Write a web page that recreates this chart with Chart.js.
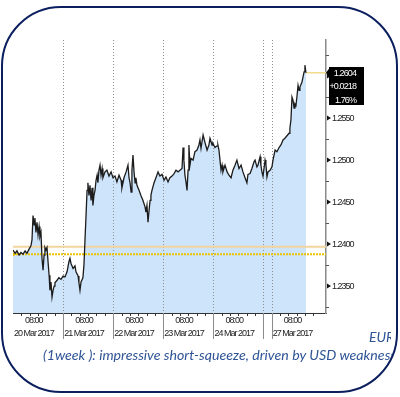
<!DOCTYPE html>
<html><head><meta charset="utf-8">
<script src="https://cdn.jsdelivr.net/npm/chart.js@4"></script>
<style>
html,body{margin:0;padding:0;background:#fff;width:400px;height:397px;overflow:hidden;}
#c{position:absolute;left:0;top:0;}
#frame{position:absolute;left:1px;top:6px;width:397px;height:387px;box-sizing:border-box;border:2.5px solid #0b1f5e;border-radius:60px;overflow:hidden;pointer-events:none;}
.cap{position:absolute;white-space:nowrap;font-family:'Lato','Liberation Sans',sans-serif;font-style:italic;color:#2f5496;}
</style></head>
<body>
<canvas id="c" width="400" height="397"></canvas>
<div id="frame">
  <div class="cap" id="pair" style="left:366px;top:320px;font-size:14px;width:22px;overflow:hidden;">EUR/USD</div>
  <div class="cap" id="caption" style="left:40px;top:338px;font-size:14.2px;">(1week ): impressive short-squeeze, driven by USD weakness</div>
</div>
<script>
// ---- data (hours of trading time since 20 Mar 2017 00:00, EUR/USD price) ----
const times = [0,1.0,1.9,2.9,3.8,4.8,5.8,6.7,7.7,8.6,9.1,9.6,10.1,10.5,11.0,11.5,12.0,12.5,12.9,13.4,13.9,14.4,14.9,15.3,15.8,16.3,16.8,17.3,17.7,18.2,18.7,19.2,19.7,20.1,21.1,22.0,23.0,24.0,24.9,25.9,26.8,27.3,27.8,28.8,29.7,30.2,31.2,31.6,32.1,32.6,33.5,34.0,34.5,35.0,35.5,35.9,36.4,36.9,37.4,37.9,38.3,38.8,39.3,39.8,40.3,40.7,41.2,41.7,42.2,42.7,43.1,44.1,45.0,46.0,47.0,47.9,48.9,49.8,50.8,51.8,52.2,53.2,54.2,55.1,55.6,56.1,56.6,57.0,57.5,58.0,58.5,58.9,59.4,60.4,61.3,62.3,63.3,63.7,64.2,64.7,65.2,65.7,66.1,66.6,67.6,68.5,69.5,70.4,71.4,72.4,73.3,74.3,75.2,76.2,77.2,78.1,79.1,80.0,81.0,81.5,81.9,82.4,82.9,83.4,83.9,84.3,84.8,85.3,86.3,87.2,88.2,89.1,89.6,90.1,91.1,92.0,93.0,93.9,94.4,95.4,95.8,96.8,97.8,98.2,98.7,99.2,99.7,100.2,100.6,101.6,102.6,103.5,104.5,105.4,106.4,107.3,108.3,109.3,110.2,111.2,112.1,112.6,113.6,114.5,115.5,116.0,116.9,117.4,118.4,118.8,119.3,119.8,120.3,120.8,121.2,121.7,122.2,123.2,124.1,124.6,125.6,126.5,127.5,128.4,129.4,130.3,131.3,132.3,132.7,133.2,133.7,134.2,134.7,135.1,135.6,136.1,136.6,137.1,137.5,138.0,138.5,139.0,139.5,139.9,140.4];
const prices = [1.2393,1.2389,1.2392,1.2387,1.2390,1.2388,1.2392,1.2389,1.2394,1.2398,1.2405,1.2434,1.2423,1.2431,1.2414,1.2426,1.2411,1.2421,1.2409,1.2414,1.2383,1.2369,1.2387,1.2396,1.2393,1.2396,1.2379,1.2363,1.2345,1.2355,1.2337,1.2345,1.2350,1.2354,1.2357,1.2360,1.2358,1.2362,1.2361,1.2367,1.2379,1.2383,1.2377,1.2371,1.2374,1.2367,1.2362,1.2354,1.2345,1.2355,1.2360,1.2375,1.2405,1.2434,1.2464,1.2473,1.2458,1.2470,1.2452,1.2467,1.2446,1.2458,1.2464,1.2476,1.2482,1.2473,1.2488,1.2494,1.2482,1.2490,1.2479,1.2486,1.2488,1.2481,1.2486,1.2479,1.2481,1.2474,1.2482,1.2476,1.2467,1.2479,1.2486,1.2494,1.2479,1.2473,1.2462,1.2488,1.2506,1.2486,1.2473,1.2479,1.2470,1.2464,1.2458,1.2452,1.2444,1.2438,1.2446,1.2426,1.2440,1.2452,1.2458,1.2464,1.2473,1.2479,1.2486,1.2481,1.2483,1.2476,1.2480,1.2474,1.2479,1.2481,1.2484,1.2488,1.2486,1.2488,1.2490,1.2515,1.2500,1.2482,1.2474,1.2464,1.2488,1.2518,1.2494,1.2502,1.2500,1.2510,1.2512,1.2518,1.2524,1.2514,1.2530,1.2521,1.2512,1.2518,1.2526,1.2518,1.2520,1.2515,1.2517,1.2518,1.2512,1.2500,1.2488,1.2494,1.2486,1.2494,1.2486,1.2482,1.2479,1.2488,1.2494,1.2500,1.2490,1.2494,1.2486,1.2479,1.2473,1.2483,1.2484,1.2490,1.2498,1.2500,1.2492,1.2494,1.2504,1.2494,1.2486,1.2481,1.2490,1.2500,1.2495,1.2480,1.2486,1.2488,1.2492,1.2500,1.2512,1.2510,1.2515,1.2518,1.2524,1.2526,1.2529,1.2532,1.2538,1.2548,1.2575,1.2571,1.2562,1.2567,1.2565,1.2576,1.2589,1.2583,1.2587,1.2590,1.2593,1.2599,1.2605,1.2613,1.2604];
const dayLabels = ['20 Mar 2017','21 Mar 2017','22 Mar 2017','23 Mar 2017','24 Mar 2017','27 Mar 2017'];
const dayStarts = [0,24,48,72,96,124];
const daySeparators = [24,48,72,96,120,124];
const timeLabel = '08:00';
const levelA = 1.2397;   // tan level
const levelB = 1.2388;   // yellow dotted level
const lastPrice = 1.2604;
const changeText = ['1.2604','+0.0218','1.76%'];
const yMajorTicks = [1.2350,1.2400,1.2450,1.2500,1.2550,1.2600];
const yMinorTicks = [1.2325,1.2375,1.2425,1.2475,1.2525,1.2575,1.2625];
const xRange = [0,150];
const yRange = [1.2318,1.2643];

const narrow = "'Liberation Sans',sans-serif";
const tickValsX = dayStarts.map(d => d + 10);

const decor = {
  id:'decor',
  beforeDraw(chart){
    chart.ctx.letterSpacing = '-1px';
  },
  beforeDatasetsDraw(chart){
    const {ctx, chartArea:a, scales:{x}} = chart;
    ctx.save();
    ctx.strokeStyle = '#8f8f8f';
    ctx.lineWidth = 1;
    ctx.setLineDash([1,2]);
    daySeparators.forEach(v=>{
      const px = Math.round(x.getPixelForValue(v))+0.5;
      ctx.beginPath(); ctx.moveTo(px,a.top); ctx.lineTo(px,a.bottom); ctx.stroke();
    });
    ctx.restore();
  },
  afterDraw(chart){
    const {ctx, chartArea:a, scales:{x,y}} = chart;
    ctx.save();
    ctx.strokeStyle = '#8c8c8c'; ctx.lineWidth = 1;
    daySeparators.forEach(v=>{
      const px = Math.round(x.getPixelForValue(v))+0.5;
      ctx.beginPath(); ctx.moveTo(px,a.bottom); ctx.lineTo(px,a.bottom+26); ctx.stroke();
    });
    ctx.strokeStyle = '#333';
    dayStarts.forEach(d=>{
      for(let h=4; h<24; h+=4){
        const v=d+h; if(v>xRange[1]) continue;
        const px = Math.round(x.getPixelForValue(v))+0.5;
        ctx.beginPath(); ctx.moveTo(px,a.bottom); ctx.lineTo(px,a.bottom+3); ctx.stroke();
      }
    });
    ctx.strokeStyle = '#555';
    yMinorTicks.forEach(v=>{
      const py = Math.round(y.getPixelForValue(v))+0.5;
      ctx.beginPath(); ctx.moveTo(a.right,py); ctx.lineTo(a.right+3,py); ctx.stroke();
    });
    ctx.fillStyle = '#111';
    yMajorTicks.forEach(v=>{
      const py = y.getPixelForValue(v);
      ctx.beginPath(); ctx.moveTo(a.right+1,py-2.5); ctx.lineTo(a.right+5,py); ctx.lineTo(a.right+1,py+2.5); ctx.closePath(); ctx.fill();
    });
    const py = y.getPixelForValue(lastPrice);
    const bx = a.right+3;
    ctx.fillStyle = '#000';
    ctx.beginPath(); ctx.moveTo(a.right,py); ctx.lineTo(bx,py-4); ctx.lineTo(bx,py+4); ctx.closePath(); ctx.fill();
    ctx.fillRect(bx, Math.round(py-6), 35, 38);
    ctx.fillStyle = '#fff';
    ctx.font = "9px "+narrow;
    ctx.letterSpacing = '-0.9px';
    ctx.textAlign = 'right'; ctx.textBaseline = 'middle';
    changeText.forEach((t,i)=> ctx.fillText(t, bx+27, py+0.5+i*13.5));
    ctx.restore();
  }
};

new Chart(document.getElementById('c'), {
  type:'line',
  data:{ datasets:[
    { data: times.map((t,i)=>({x:t,y:prices[i]})), borderColor:'#1c1c1c', borderWidth:1.3,
      backgroundColor:'#cde4fb', fill:'start', pointRadius:0, tension:0, order:0 },
    { data:[{x:xRange[0],y:levelA},{x:xRange[1],y:levelA}], borderColor:'#f2d49e', borderWidth:2, pointRadius:0, fill:false, order:2 },
    { data:[{x:xRange[0],y:levelB},{x:xRange[1],y:levelB}], borderColor:'#ecc300', borderWidth:2, borderDash:[2,1], pointRadius:[3.5,0], pointStyle:'triangle', rotation:90, pointBackgroundColor:'#ecc300', pointBorderWidth:0, fill:false, order:1 },
    { data:[{x:times[times.length-1],y:lastPrice},{x:xRange[1],y:lastPrice}], borderColor:'#f0dc8c', borderWidth:1.5, pointRadius:0, fill:false, order:1 }
  ]},
  options:{
    responsive:false, animation:false, devicePixelRatio:1,
    layout:{padding:{left:13,top:40,right:0,bottom:0}},
    plugins:{legend:{display:false}, tooltip:{enabled:false}, filler:{drawTime:'beforeDatasetsDraw'}},
    scales:{
      x:{ type:'linear', min:xRange[0], max:xRange[1],
        grid:{display:false, drawTicks:false},
        border:{display:true, color:'#333', width:1},
        afterBuildTicks(s){ s.ticks = tickValsX.map(v=>({value:v})); },
        afterFit(s){ s.height = 84; },
        ticks:{ autoSkip:false, maxRotation:0, padding:1, color:'#222',
          font:{family:narrow, size:9, lineHeight:1.45},
          callback(v){ const i = tickValsX.indexOf(v); return [timeLabel, dayLabels[i]]; } }
      },
      y:{ type:'linear', position:'right', min:yRange[0], max:yRange[1],
        grid:{display:false, drawTicks:false},
        border:{display:true, color:'#8a8a8a', width:1.5},
        afterBuildTicks(s){ s.ticks = yMajorTicks.map(v=>({value:v})); },
        afterFit(s){ s.width = 74; },
        ticks:{ autoSkip:false, padding:6, color:'#222', font:{family:narrow, size:9},
          callback(v){ return v.toFixed(4); } }
      }
    }
  },
  plugins:[decor]
});
</script>
</body></html>
